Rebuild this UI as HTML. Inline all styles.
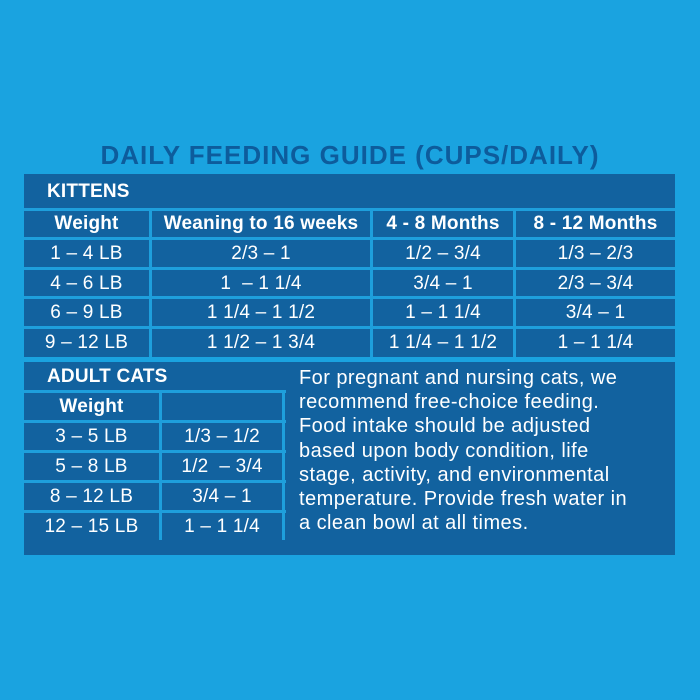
<!DOCTYPE html>
<html><head><style>
body{margin:0;width:700px;height:700px;background:#1aa3e0;position:relative;overflow:hidden;font-family:"Liberation Sans",sans-serif;}
.a{position:absolute;}
.box{background:#12629f;}
.h{position:absolute;height:3px;background:#1e9fdc;}
.v{position:absolute;width:3px;background:#1e9fdc;}
.t{position:absolute;color:#fff;font-weight:bold;font-size:19px;text-align:center;line-height:28px;letter-spacing:0.2px;}
.n{font-weight:normal;}
</style></head><body>
<div class="a" style="left:0;top:140px;width:700px;text-align:center;color:#0d5c9c;font-weight:bold;font-size:26px;letter-spacing:1px;">DAILY FEEDING GUIDE (CUPS/DAILY)</div>
<div class="a box" style="left:24px;top:174px;width:651px;height:183px"></div>
<div class="a box" style="left:24px;top:362px;width:651px;height:193px"></div>
<div class="h" style="left:24px;top:208px;width:651px"></div>
<div class="h" style="left:24px;top:237px;width:651px"></div>
<div class="h" style="left:24px;top:267px;width:651px"></div>
<div class="h" style="left:24px;top:296px;width:651px"></div>
<div class="h" style="left:24px;top:326px;width:651px"></div>
<div class="v" style="left:149px;top:208px;height:149px"></div>
<div class="v" style="left:370px;top:208px;height:149px"></div>
<div class="v" style="left:513px;top:208px;height:149px"></div>
<div class="t" style="left:47px;top:178px;text-align:left">KITTENS</div>
<div class="t" style="left:24px;top:210px;width:125px">Weight</div>
<div class="t" style="left:152px;top:210px;width:218px">Weaning to 16 weeks</div>
<div class="t" style="left:373px;top:210px;width:140px">4 - 8 Months</div>
<div class="t" style="left:516px;top:210px;width:159px">8 - 12 Months</div>
<div class="a" style="left:0;top:240px">
<div class="t n" style="left:24px;top:0;width:125px">1 – 4 LB</div>
<div class="t n" style="left:152px;top:0;width:218px">2/3 – 1</div>
<div class="t n" style="left:373px;top:0;width:140px">1/2 – 3/4</div>
<div class="t n" style="left:516px;top:0;width:159px">1/3 – 2/3</div>
<div class="t n" style="left:24px;top:30px;width:125px">4 – 6 LB</div>
<div class="t n" style="left:152px;top:30px;width:218px">1 &nbsp;– 1 1/4</div>
<div class="t n" style="left:373px;top:30px;width:140px">3/4 – 1</div>
<div class="t n" style="left:516px;top:30px;width:159px">2/3 – 3/4</div>
<div class="t n" style="left:24px;top:59px;width:125px">6 – 9 LB</div>
<div class="t n" style="left:152px;top:59px;width:218px">1 1/4 – 1 1/2</div>
<div class="t n" style="left:373px;top:59px;width:140px">1 – 1 1/4</div>
<div class="t n" style="left:516px;top:59px;width:159px">3/4 – 1</div>
<div class="t n" style="left:24px;top:89px;width:125px">9 – 12 LB</div>
<div class="t n" style="left:152px;top:89px;width:218px">1 1/2 – 1 3/4</div>
<div class="t n" style="left:373px;top:89px;width:140px">1 1/4 – 1 1/2</div>
<div class="t n" style="left:516px;top:89px;width:159px">1 – 1 1/4</div>
</div>
<div class="h" style="left:24px;top:390px;width:262px"></div>
<div class="h" style="left:24px;top:420px;width:262px"></div>
<div class="h" style="left:24px;top:450px;width:262px"></div>
<div class="h" style="left:24px;top:480px;width:262px"></div>
<div class="h" style="left:24px;top:510px;width:262px"></div>
<div class="v" style="left:159px;top:390px;height:150px"></div>
<div class="v" style="left:282px;top:390px;height:150px"></div>
<div class="t" style="left:47px;top:363px;text-align:left">ADULT CATS</div>
<div class="t" style="left:24px;top:393px;width:135px">Weight</div>
<div class="t n" style="left:24px;top:423px;width:135px">3 – 5 LB</div>
<div class="t n" style="left:162px;top:423px;width:120px">1/3 – 1/2</div>
<div class="t n" style="left:24px;top:453px;width:135px">5 – 8 LB</div>
<div class="t n" style="left:162px;top:453px;width:120px">1/2 &nbsp;– 3/4</div>
<div class="t n" style="left:24px;top:483px;width:135px">8 – 12 LB</div>
<div class="t n" style="left:162px;top:483px;width:120px">3/4 – 1</div>
<div class="t n" style="left:24px;top:513px;width:135px">12 – 15 LB</div>
<div class="t n" style="left:162px;top:513px;width:120px">1 – 1 1/4</div>
<div class="a" style="left:299px;top:366px;width:375px;color:#fff;font-size:20px;letter-spacing:0.45px;line-height:24.2px;white-space:nowrap">For pregnant and nursing cats, we<br>recommend free-choice feeding.<br>Food intake should be adjusted<br>based upon body condition, life<br>stage, activity, and environmental<br>temperature. Provide fresh water in<br>a clean bowl at all times.</div>
</body></html>
